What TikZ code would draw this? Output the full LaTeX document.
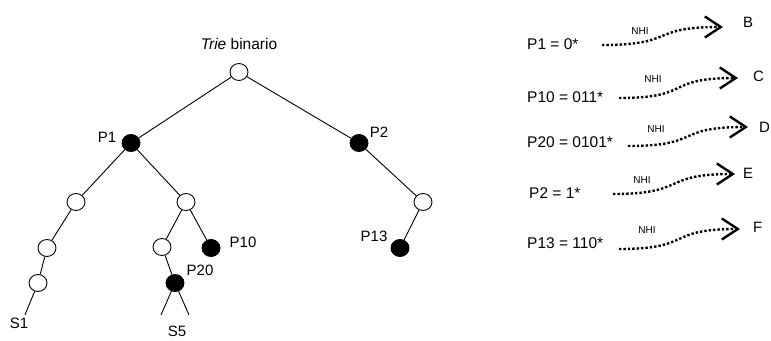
\documentclass[tikz,border=0pt]{standalone}
\usepackage{fontspec}
\setmainfont{Liberation Sans}
\usetikzlibrary{arrows.meta,shapes.geometric}
\begin{document}
\begin{tikzpicture}[x=1pt,y=-1pt,
  tn/.style={draw,ellipse,minimum width=18pt,minimum height=17pt,inner sep=0pt,line width=0.9pt},
  emptyn/.style={tn,fill=white},
  fulln/.style={tn,fill=black},
  edge/.style={line width=0.9pt},
  lbl/.style={font=\fontsize{15}{17}\selectfont,inner sep=0pt},
  tbl/.style={font=\fontsize{15.5}{17}\selectfont,inner sep=0pt},
  nhi/.style={font=\fontsize{10}{12}\selectfont,inner sep=0pt},
  dotarrow/.style={line width=2.4pt,dash pattern=on 2.4pt off 2pt,
     -{Straight Barb[length=16pt,width=21pt,line width=2.4pt]}},
]
\useasboundingbox (0,0) rectangle (771,340);
% tree nodes
\node[emptyn] (r) at (239,72) {};
\node[fulln] (p1) at (131,143) {};
\node[fulln] (p2) at (359,143) {};
\node[emptyn] (a) at (76,202) {};
\node[emptyn] (b) at (186,202) {};
\node[emptyn] (c) at (423,202) {};
\node[emptyn] (d) at (47,248) {};
\node[emptyn] (e) at (162,247) {};
\node[fulln] (p10) at (211,248) {};
\node[fulln] (p13) at (400,248) {};
\node[emptyn] (f) at (38,283) {};
\node[fulln] (p20) at (175,283) {};
\coordinate (s1end) at (25,315);
\coordinate (s5a) at (161,315);
\coordinate (s5b) at (189,315);
% edges
\draw[edge] (r) -- (p1);
\draw[edge] (r) -- (p2);
\draw[edge] (p1) -- (a);
\draw[edge] (p1) -- (b);
\draw[edge] (p2) -- (c);
\draw[edge] (a) -- (d);
\draw[edge] (b) -- (e);
\draw[edge] (b) -- (p10);
\draw[edge] (c) -- (p13);
\draw[edge] (d) -- (f);
\draw[edge] (e) -- (p20);
\draw[edge] (f) -- (s1end);
\draw[edge] (p20) -- (s5a);
\draw[edge] (p20) -- (s5b);
% labels
\node[tbl] (title) at (239,44) {\textit{Trie} binario};
\node[lbl] (lp1) at (107,137) {P1};
\node[lbl] (lp2) at (379,132) {P2};
\node[lbl] (lp10) at (243,242) {P10};
\node[lbl] (lp20) at (200,270) {P20};
\node[lbl] (lp13) at (374,236) {P13};
\node[lbl] (ls1) at (19,323) {S1};
\node[lbl] (ls5) at (177,331) {S5};
% right table
\node[tbl,anchor=west] (e1) at (527,44) {P1 = 0*};
\node[tbl,anchor=west] (e2) at (527,97) {P10 = 011*};
\node[tbl,anchor=west] (e3) at (527,142) {P20 = 0101*};
\node[tbl,anchor=west] (e4) at (529,193) {P2 = 1*};
\node[tbl,anchor=west] (e5) at (527,243) {P13 = 110*};
\node[nhi] (n1) at (640,31) {NHI};
\node[nhi] (n2) at (653,79) {NHI};
\node[nhi] (n3) at (656,129) {NHI};
\node[nhi] (n4) at (642,180) {NHI};
\node[nhi] (n5) at (647,230) {NHI};
\node[lbl,anchor=west] (hB) at (743,22) {B};
\node[lbl,anchor=west] (hC) at (753,76) {C};
\node[lbl,anchor=west] (hD) at (759,127) {D};
\node[lbl,anchor=west] (hE) at (743,173) {E};
\node[lbl,anchor=west] (hF) at (753,227) {F};
\coordinate (s1) at (602,45); \coordinate (t1) at (723,27);
\coordinate (s2) at (619,98); \coordinate (t2) at (738,78);
\coordinate (s3) at (628,146); \coordinate (t3) at (748,127);
\coordinate (s4) at (613,194); \coordinate (t4) at (735,174);
\coordinate (s5) at (619,249); \coordinate (t5) at (740,229);
\foreach \i in {1,...,5}{
  \draw[dotarrow] (s\i) .. controls ([xshift=75pt]s\i) and ([xshift=-75pt]t\i) .. (t\i);
}
\end{tikzpicture}
\end{document}
